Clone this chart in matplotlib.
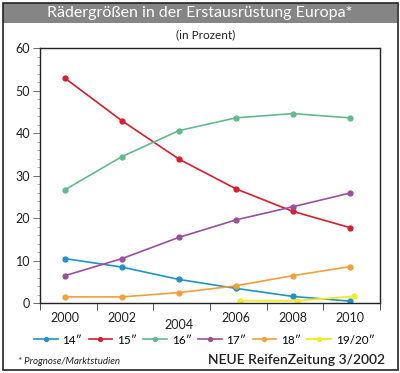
import numpy as np
import matplotlib
matplotlib.use("Agg")
import matplotlib.pyplot as plt
from matplotlib.patches import Rectangle
from matplotlib.transforms import ScaledTranslation

plt.rcParams['font.family'] = ['Lato', 'DejaVu Sans']

# Data (percent)
years = ['2000', '2002', '2004', '2006', '2008', '2010']
s14 = [10.5, 8.5, 5.6, 3.5, 1.6, 0.5]
s15 = [52.9, 42.9, 33.9, 26.9, 21.6, 17.8]
s16 = [26.7, 34.5, 40.6, 43.6, 44.6, 43.6]
s17 = [6.5, 10.5, 15.5, 19.6, 22.7, 25.9]
s18 = [1.5, 1.5, 2.5, 4.1, 6.5, 8.6]
s1920 = [0.6, 0.6, 1.6]        # from 2006 on
labels = ['14\u2033', '15\u2033', '16\u2033', '17\u2033', '18\u2033', '19/20\u2033']
colors = ['#1f93c8', '#d81e2c', '#62ba8c', '#9a4f9c', '#f3a03a', '#f3ea2a']

fig = plt.figure(figsize=(4.0, 3.73), dpi=100)
ax = fig.add_axes([0.1, 0.187, 0.85, 0.684])

x = np.arange(len(years))
series = [s14, s15, s16, s17, s18]
for vals, lab, col in zip(series, labels[:5], colors[:5]):
    ax.plot(x, vals, color=col, lw=1.2, marker='o', ms=3.5, label=lab)
ax.plot(x[3:] + 0.07, s1920, color=colors[5], lw=1.4, marker='o', ms=3.5, label=labels[5])

ax.set_xlim(-0.44, 5.53)
ax.set_ylim(0, 60)
ax.set_yticks(np.arange(0, 61, 10))
ax.set_yticks(np.arange(0, 61, 2), minor=True)
ax.tick_params(axis='y', which='major', length=5, width=0.6, labelsize=9, pad=2, colors='#555555', labelcolor='#222222')
ax.tick_params(axis='y', which='minor', length=2.5, width=0.5, colors='#888888')

# x: tick marks between categories, labels at categories
ax.set_xticks(np.arange(-0.44, 5.6, 0.995))
ax.set_xticklabels([])
ax.set_xticks(x, minor=True)
ax.set_xticklabels(years, minor=True)
ax.tick_params(axis='x', which='major', length=5, width=0.6, colors='#333333')
ax.tick_params(axis='x', which='minor', length=0, labelsize=9, pad=6, labelcolor='#222222')
for t in ax.get_xticklabels(minor=True):
    if t.get_text() == '2004':
        t.set_transform(t.get_transform() + ScaledTranslation(0, -5 / 72, fig.dpi_scale_trans))

for sp in ax.spines.values():
    sp.set_color('#222222')
    sp.set_linewidth(1.0)

# title band and frame
fig.patches.append(Rectangle((3 / 400, 350 / 373), 394 / 400, 20 / 373, transform=fig.transFigure,
                             facecolor='#858585', edgecolor='none', zorder=0))
fig.patches.append(Rectangle((3 / 400, 3 / 373), 395 / 400, 367 / 373, transform=fig.transFigure,
                             facecolor='none', edgecolor='#222222', lw=1.2, zorder=5))
fig.text(0.5, 1 - 13 / 373, 'Rädergrößen in der Erstausrüstung Europa*', ha='center', va='center',
         color='white', fontsize=11.5)
fig.text(0.515, 1 - 35 / 373, '(in Prozent)', ha='center', va='center', color='#222222', fontsize=8.5)

fig.legend(loc='center left', bbox_to_anchor=(0.085, 1 - 340 / 373), ncol=6, frameon=False,
           fontsize=8.5, handlelength=2.0, handletextpad=0.4, columnspacing=0.55, borderaxespad=0,
           borderpad=0, markerscale=0.8)

fig.text(18 / 400, 1 - 361 / 373, '* Prognose/Marktstudien', ha='left', va='center',
         fontsize=7, style='italic', color='#222222')
fig.text(385 / 400, 1 - 360 / 373, 'NEUE ReifenZeitung 3/2002', ha='right', va='center',
         fontsize=10, fontweight='semibold', color='#222222')

fig.savefig('out.png', dpi=100)
